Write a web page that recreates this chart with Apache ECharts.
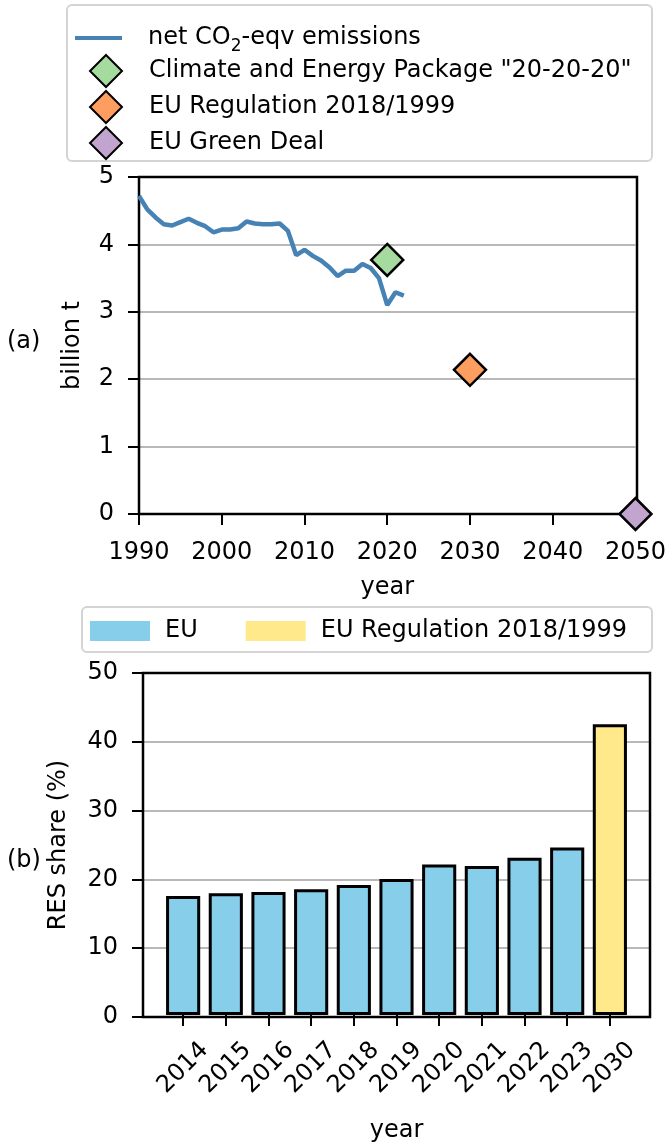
<!DOCTYPE html>
<html>
<head>
<meta charset="utf-8">
<script src="https://cdn.jsdelivr.net/npm/echarts@6/dist/echarts.min.js"></script>
<style>
  html, body { margin: 0; padding: 0; background: #fff; }
  #main { width: 669px; height: 1144px; }
</style>
</head>
<body>
<div id="main"></div>
<script>
// (a) net emissions, billion t
let years = [1990,1991,1992,1993,1994,1995,1996,1997,1998,1999,2000,2001,2002,2003,2004,2005,2006,2007,2008,2009,2010,2011,2012,2013,2014,2015,2016,2017,2018,2019,2020,2021,2022]
let emissions = [4.72,4.52,4.40,4.30,4.28,4.33,4.38,4.32,4.27,4.18,4.22,4.22,4.24,4.34,4.31,4.30,4.30,4.31,4.20,3.84,3.92,3.83,3.76,3.66,3.53,3.61,3.61,3.71,3.65,3.50,3.10,3.29,3.24]
let target2020 = [2020, 3.77]
let target2030 = [2030, 2.14]
let target2050 = [2050, 0]

// (b) RES share
let resYears = ['2014','2015','2016','2017','2018','2019','2020','2021','2022','2023','2030']
let resEU = [17.4,17.8,18.0,18.4,19.0,19.9,22.0,21.8,23.0,24.5,'-']
let resTarget = ['-','-','-','-','-','-','-','-','-','-',42.5]

let yTicksA = [0,1,2,3,4,5]
let yTicksB = [0,10,20,30,40,50]

let font = 'DejaVu Sans'
let fs = 24

let chart = echarts.init(document.getElementById('main'), null, {renderer: 'canvas'})

// shared axis look
let tickStyle = {show: true, inside: false, length: 11, lineStyle: {color: '#000', width: 2}}
let labelStyle = {color: '#000', fontSize: fs, fontFamily: font}
let nameStyle = {fontSize: fs, fontFamily: font, color: '#000'}
let gridLine = {show: true, lineStyle: {color: '#a0a0a0', width: 1.5}}

let option = {
  animation: false,
  textStyle: {fontFamily: font},
  graphic: [
    // legend boxes
    {type: 'rect', shape: {x: 67, y: 5, width: 585, height: 156, r: 5}, style: {fill: '#fff', stroke: '#d4d4d4', lineWidth: 2}, z: -1},
    {type: 'rect', shape: {x: 82, y: 607, width: 570, height: 45, r: 5}, style: {fill: '#fff', stroke: '#d4d4d4', lineWidth: 2}, z: -1},
    // plot frames
    {type: 'rect', shape: {x: 139, y: 177, width: 498, height: 337}, style: {fill: 'none', stroke: '#000', lineWidth: 2.5}, z: 1},
    {type: 'rect', shape: {x: 143, y: 673, width: 507, height: 344}, style: {fill: 'none', stroke: '#000', lineWidth: 2.5}, z: 1},
    {type: 'text', left: 7, top: 330, style: {text: '(a)', fontSize: fs, fontFamily: font, fill: '#000'}},
    {type: 'text', left: 7, top: 849, style: {text: '(b)', fontSize: fs, fontFamily: font, fill: '#000'}}
  ],
  legend: [
    {
      // line entry
      data: [{name: 'net CO₂-eqv emissions', icon: 'path://M0 0H47V4H0Z'}],
      left: 75, top: 26, padding: 0,
      itemWidth: 47, itemHeight: 4,
      itemStyle: {color: '#4682b4'},
      formatter: () => '{n|net CO}{s|2}{n|-eqv emissions}',
      textStyle: {
        fontSize: fs, fontFamily: font, color: '#000', padding: [0, 0, 0, 21],
        rich: {
          n: {fontSize: fs, fontFamily: font, color: '#000', lineHeight: 34, verticalAlign: 'middle'},
          s: {fontSize: 17, fontFamily: font, color: '#000', lineHeight: 17, verticalAlign: 'bottom'}
        }
      }
    },
    {
      // target diamonds
      data: ['Climate and Energy Package "20-20-20"', 'EU Regulation 2018/1999 ', 'EU Green Deal'],
      orient: 'vertical',
      left: 89, top: 54, padding: 0,
      itemWidth: 32, itemHeight: 32, itemGap: 2,
      textStyle: {fontSize: fs, fontFamily: font, color: '#000', padding: [0, 0, 0, 22], lineHeight: 30}
    },
    {
      data: [{name: 'EU', icon: 'rect'}, {name: 'EU Regulation 2018/1999', icon: 'rect'}],
      left: 90, top: 619, padding: 0,
      itemWidth: 60, itemHeight: 20, itemGap: 48,
      itemStyle: {borderWidth: 0},
      textStyle: {fontSize: fs, fontFamily: font, color: '#000', padding: [0, 0, 0, 10]}
    }
  ],
  grid: [
    {left: 139, right: 32, top: 177, bottom: 630},
    // frame of chart (b)
    {left: 143, right: 19, top: 673, bottom: 127},
    // bars of chart (b), inset like matplotlib margins
    {left: 161.8, right: 37.8, top: 673, bottom: 127}
  ],
  xAxis: [
    {
      gridIndex: 0, type: 'value', min: 1990, max: 2050, interval: 10,
      name: 'year', nameLocation: 'middle', nameGap: 62,
      nameTextStyle: nameStyle,
      axisLine: {show: false}, axisTick: tickStyle,
      axisLabel: Object.assign({margin: 27, formatter: v => String(v)}, labelStyle),
      splitLine: {show: false}
    },
    {gridIndex: 1, type: 'value', min: 0, max: 1, show: false},
    {
      gridIndex: 2, type: 'category', data: resYears,
      name: 'year', nameLocation: 'middle', nameGap: 104,
      nameTextStyle: nameStyle,
      axisLine: {show: false},
      axisTick: Object.assign({alignWithLabel: true}, tickStyle),
      axisLabel: Object.assign({margin: 53, rotate: 45, align: 'center', verticalAlign: 'middle', interval: 0}, labelStyle),
      splitLine: {show: false}
    }
  ],
  yAxis: [
    {
      gridIndex: 0, type: 'value', min: 0, max: 5, interval: 1,
      name: 'billion t', nameLocation: 'middle', nameGap: 54,
      nameTextStyle: nameStyle,
      axisLine: {show: false}, axisTick: tickStyle,
      axisLabel: Object.assign({margin: 25, formatter: v => yTicksA.includes(v) ? String(v) : ''}, labelStyle),
      splitLine: gridLine
    },
    {
      gridIndex: 1, type: 'value', min: 0, max: 50, interval: 10,
      name: 'RES share (%)', nameLocation: 'middle', nameGap: 72,
      nameTextStyle: nameStyle,
      axisLine: {show: false}, axisTick: tickStyle,
      axisLabel: Object.assign({margin: 25, formatter: v => yTicksB.includes(v) ? String(v) : ''}, labelStyle),
      splitLine: gridLine
    },
    {gridIndex: 2, type: 'value', min: 0, max: 50, show: false}
  ],
  series: [
    {
      name: 'net CO₂-eqv emissions', type: 'line',
      xAxisIndex: 0, yAxisIndex: 0,
      data: years.map((y, i) => [y, emissions[i]]),
      showSymbol: false, symbol: 'none',
      lineStyle: {color: '#4682b4', width: 4.5},
      itemStyle: {color: '#4682b4'},
      z: 3
    },
    {
      name: 'Climate and Energy Package "20-20-20"', type: 'scatter',
      xAxisIndex: 0, yAxisIndex: 0, clip: false,
      data: [target2020], symbol: 'diamond', symbolSize: 32,
      itemStyle: {color: '#a6dba0', borderColor: '#000', borderWidth: 2.5, opacity: 1},
      z: 5
    },
    {
      name: 'EU Regulation 2018/1999 ', type: 'scatter',
      xAxisIndex: 0, yAxisIndex: 0, clip: false,
      data: [target2030], symbol: 'diamond', symbolSize: 32,
      itemStyle: {color: '#fd9d5f', borderColor: '#000', borderWidth: 2.5, opacity: 1},
      z: 5
    },
    {
      name: 'EU Green Deal', type: 'scatter',
      xAxisIndex: 0, yAxisIndex: 0, clip: false,
      data: [target2050], symbol: 'diamond', symbolSize: 32,
      itemStyle: {color: '#c2a5cf', borderColor: '#000', borderWidth: 2.5, opacity: 1},
      z: 5
    },
    {
      name: 'EU', type: 'bar',
      xAxisIndex: 2, yAxisIndex: 2,
      data: resEU, barWidth: '80%', barGap: '-100%',
      itemStyle: {color: '#87ceeb', borderColor: '#000', borderWidth: 3}
    },
    {
      name: 'EU Regulation 2018/1999', type: 'bar',
      xAxisIndex: 2, yAxisIndex: 2,
      data: resTarget, barWidth: '80%', barGap: '-100%',
      itemStyle: {color: '#ffe98a', borderColor: '#000', borderWidth: 3}
    }
  ]
}

chart.setOption(option)
window.addEventListener('resize', () => {
  chart.resize()
})
</script>
</body>
</html>
